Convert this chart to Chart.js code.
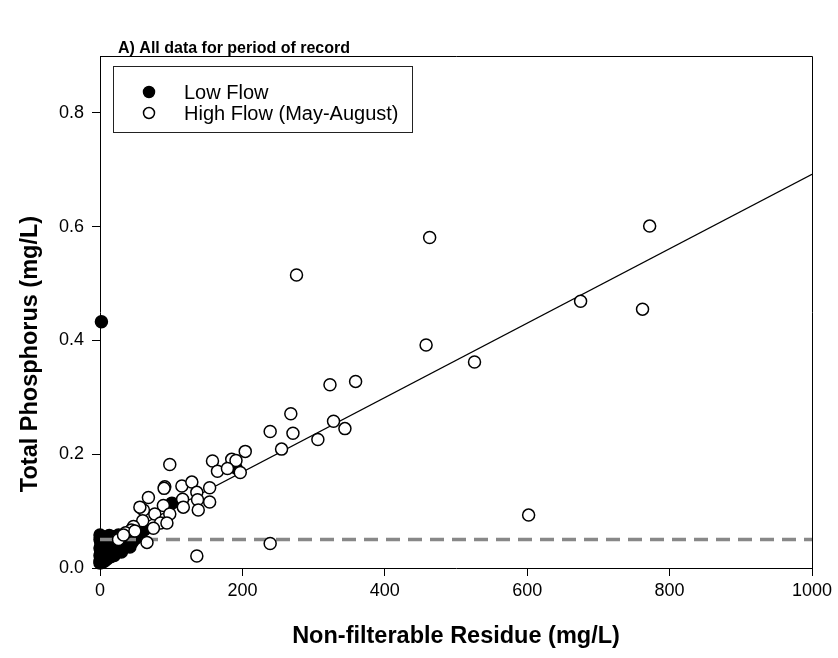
<!DOCTYPE html>
<html>
<head>
<meta charset="utf-8">
<script src="https://cdn.jsdelivr.net/npm/chart.js@4/dist/chart.umd.min.js"></script>
<style>
  html, body { margin: 0; padding: 0; background: #fff; }
  #wrap { width: 838px; height: 658px; }
</style>
</head>
<body>
<div id="wrap"><canvas id="graph"></canvas></div>
<script>
// Low flow samples (filled)
const lowX = [0, 0, 0, 1, 1, 1, 2, 2, 2, 3, 3, 4, 4, 5, 5, 6, 6, 7, 8, 8, 9, 10, 10, 11, 12, 13, 14, 15, 16, 18,
              19, 20, 22, 24, 25, 27, 29, 31, 33, 35, 38, 41, 44, 48, 52, 56, 62, 101, 191, 2,
              0, 0, 0, 3, 4, 6, 7, 9, 10, 12, 13, 15, 17, 18, 20, 21, 23, 25, 26, 28, 30, 32, 34, 36, 38,
              40, 42, 45, 47, 50, 8, 14, 16, 22];
const lowY = [0.012, 0.022, 0.035, 0.018, 0.028, 0.045, 0.015, 0.032, 0.050, 0.024, 0.040, 0.019, 0.036, 0.028, 0.047,
              0.021, 0.038, 0.031, 0.025, 0.044, 0.034, 0.027, 0.052, 0.040, 0.033, 0.046, 0.038, 0.030, 0.050, 0.042,
              0.035, 0.055, 0.045, 0.038, 0.050, 0.042, 0.048, 0.055, 0.045, 0.052, 0.050, 0.058, 0.055, 0.060, 0.058,
              0.062, 0.067, 0.114, 0.176, 0.433,
              0.009, 0.050, 0.058, 0.010, 0.055, 0.012, 0.050, 0.015, 0.040, 0.018, 0.057, 0.020, 0.025, 0.055, 0.022,
              0.045, 0.028, 0.030, 0.058, 0.033, 0.028, 0.040, 0.035, 0.050, 0.038, 0.042, 0.037, 0.045, 0.050, 0.052,
              0.033, 0.030, 0.040, 0.035];

// High flow samples, May-August (open)
const highX = [772, 675, 762, 463, 458, 526, 276, 323, 359, 268, 239, 271, 328, 344, 306, 255, 204, 602, 239, 136,
               185, 158, 191, 165, 179, 197, 98, 91, 90, 115, 129, 136, 154, 137, 154, 116, 117, 138, 68, 89,
               98, 77, 85, 94, 61, 60, 75, 56, 47, 44, 36, 31, 26, 66, 49, 33];
const highY = [0.601, 0.469, 0.455, 0.581, 0.392, 0.362, 0.515, 0.322, 0.328, 0.271, 0.240, 0.237, 0.258, 0.245, 0.226,
               0.209, 0.205, 0.093, 0.043, 0.021, 0.191, 0.188, 0.189, 0.170, 0.175, 0.168, 0.182, 0.143, 0.140, 0.144,
               0.151, 0.133, 0.141, 0.120, 0.116, 0.121, 0.107, 0.102, 0.124, 0.110, 0.095, 0.095, 0.079, 0.079, 0.102,
               0.083, 0.070, 0.107, 0.073, 0.067, 0.062, 0.055, 0.050, 0.045, 0.065, 0.058];

// regression line and 0.05 mg/L guideline
const fitX = [0, 1000];
const fitY = [0.038, 0.692];
const limitX = [0, 1000];
const limitY = [0.05, 0.05];

const xTicks = [0, 200, 400, 600, 800, 1000];
const yTicks = [0, 0.2, 0.4, 0.6, 0.8];
const legendOrder = ['Low Flow', 'High Flow (May-August)'];

const FONT = "'Liberation Sans', Arial, sans-serif";

function pts(xs, ys) {
    return xs.map((x, i) => ({ x: x, y: ys[i] }));
}

// frame, legend box, page title and y title
const extras = {
    id: 'extras',
    beforeDatasetsDraw(chart) {
        const ctx = chart.ctx;
        const a = chart.chartArea;
        ctx.save();
        ctx.strokeStyle = '#000';
        ctx.lineWidth = 1;
        ctx.beginPath();
        ctx.moveTo(a.left, a.top + 0.5);
        ctx.lineTo(a.right + 0.5, a.top + 0.5);
        ctx.lineTo(a.right + 0.5, a.bottom);
        ctx.stroke();
        ctx.restore();
    },
    afterDraw(chart) {
        const ctx = chart.ctx;
        const a = chart.chartArea;
        ctx.save();

        // legend
        const lx = a.left + 13, ly = a.top + 10, lw = 299, lh = 66;
        ctx.fillStyle = '#fff';
        ctx.fillRect(lx, ly, lw, lh);
        ctx.strokeStyle = '#222';
        ctx.lineWidth = 1;
        ctx.strokeRect(lx + 0.5, ly + 0.5, lw, lh);
        legendOrder.forEach((name, i) => {
            const d = chart.data.datasets.find(ds => ds.label === name);
            const cy = ly + 26 + i * 21;
            ctx.beginPath();
            ctx.arc(lx + 36, cy, 5.5, 0, Math.PI * 2);
            ctx.fillStyle = d.backgroundColor;
            ctx.fill();
            ctx.lineWidth = 1.5;
            ctx.strokeStyle = '#000';
            ctx.stroke();
            ctx.fillStyle = '#000';
            ctx.font = '20px ' + FONT;
            ctx.textBaseline = 'middle';
            ctx.textAlign = 'left';
            ctx.fillText(d.label, lx + 71, cy + 1);
        });

        // page title
        ctx.font = 'bold 16px ' + FONT;
        ctx.textBaseline = 'alphabetic';
        ctx.textAlign = 'left';
        ctx.fillText('A) All data for period of record', 118, 53);

        // y axis title
        ctx.translate(31, 354);
        ctx.rotate(-Math.PI / 2);
        ctx.font = 'bold 23.5px ' + FONT;
        ctx.textAlign = 'center';
        ctx.textBaseline = 'middle';
        ctx.fillText('Total Phosphorus (mg/L)', 0, 0);
        ctx.restore();
    }
};

const ctx = document.getElementById('graph');
new Chart(ctx, {
    type: 'scatter',
    data: {
        datasets: [
            {
                label: 'High Flow (May-August)',
                data: pts(highX, highY),
                backgroundColor: '#fff',
                borderColor: '#000',
                borderWidth: 1.5,
                pointRadius: 6,
                clip: false,
                order: 0
            },
            {
                type: 'line',
                label: 'limit',
                data: pts(limitX, limitY),
                borderColor: '#888',
                borderWidth: 3.5,
                borderDash: [14, 8],
                pointRadius: 0,
                order: 1
            },
            {
                label: 'Low Flow',
                data: pts(lowX, lowY),
                backgroundColor: '#000',
                borderColor: '#000',
                borderWidth: 1.5,
                pointRadius: 6,
                clip: false,
                order: 2
            },
            {
                type: 'line',
                label: 'fit',
                data: pts(fitX, fitY),
                borderColor: '#000',
                borderWidth: 1.2,
                pointRadius: 0,
                order: 3
            }
        ]
    },
    options: {
        responsive: true,
        maintainAspectRatio: false,
        animation: false,
        layout: { padding: { top: 56, right: 26, left: 0, bottom: 0 } },
        plugins: {
            legend: { display: false },
            tooltip: { enabled: false }
        },
        scales: {
            x: {
                type: 'linear',
                min: 0,
                max: 1000,
                afterBuildTicks: s => { s.ticks = xTicks.map(v => ({ value: v })); },
                afterFit: s => { s.height = 90; },
                grid: { drawOnChartArea: false, drawTicks: true, tickLength: 8, color: '#000' },
                border: { display: true, color: '#000', width: 1 },
                ticks: {
                    color: '#000',
                    padding: 4,
                    maxRotation: 0,
                    font: { family: FONT, size: 18 },
                    callback: v => String(v)
                },
                title: {
                    display: true,
                    text: 'Non-filterable Residue (mg/L)',
                    color: '#000',
                    padding: { top: 0, bottom: 7 },
                    font: { family: FONT, size: 23.5, weight: 'bold' }
                }
            },
            y: {
                type: 'linear',
                min: 0,
                max: 0.9,
                afterBuildTicks: s => { s.ticks = yTicks.map(v => ({ value: v })); },
                afterFit: s => { s.width = 100; },
                grid: { drawOnChartArea: false, drawTicks: true, tickLength: 8, color: '#000' },
                border: { display: true, color: '#000', width: 1 },
                ticks: {
                    color: '#000',
                    padding: 8,
                    font: { family: FONT, size: 18 },
                    callback: v => v.toFixed(1)
                }
            }
        }
    },
    plugins: [extras]
});
</script>
</body>
</html>
